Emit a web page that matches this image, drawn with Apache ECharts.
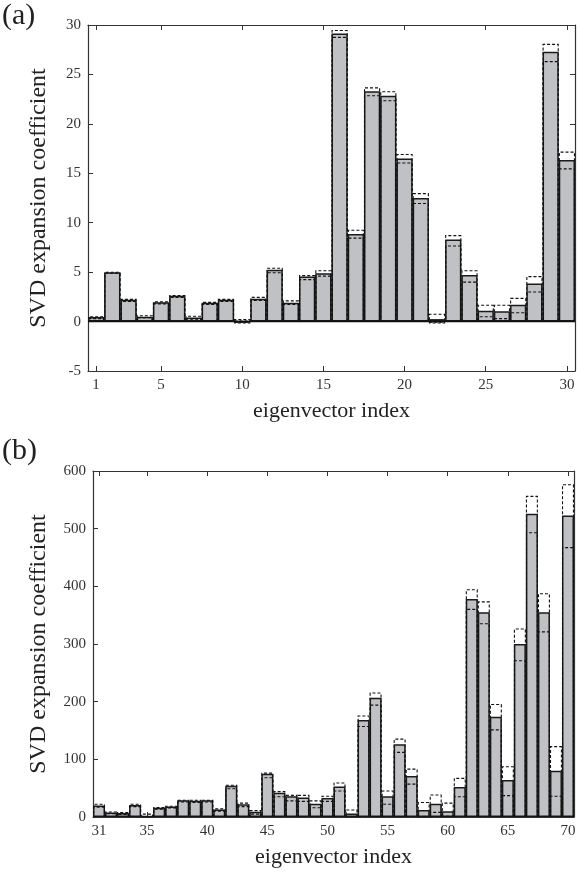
<!DOCTYPE html>
<html>
<head>
<meta charset="utf-8">
<script src="https://cdn.jsdelivr.net/npm/echarts@6/dist/echarts.min.js"></script>
<style>
html,body{margin:0;padding:0;background:#fff;}
#chart{width:579px;height:886px;}
</style>
</head>
<body>
<div id="chart"></div>
<script>
// Panel (a): eigenvector index 1..30
const catsA = Array.from({length:30},(_,i)=>String(i+1));
const valsA  = [0.45, 5.0, 2.2, 0.5, 1.95, 2.6, 0.4, 1.9, 2.2, -0.1, 2.3, 5.25, 1.9, 4.55, 4.9, 29.15, 8.85, 23.3, 22.85, 16.5, 12.5, 0.25, 8.3, 4.7, 1.1, 1.05, 1.7, 3.85, 27.3, 16.35];
const upperA = [0.55, 5.05, 2.3, 0.65, 2.05, 2.7, 0.6, 2.0, 2.3, 0.25, 2.5, 5.45, 2.15, 4.7, 5.2, 29.5, 9.3, 23.7, 23.3, 16.95, 13.0, 0.8, 8.75, 5.2, 1.7, 1.7, 2.4, 4.6, 28.1, 17.2];
const lowerA = [0.35, 4.95, 2.1, 0.45, 1.85, 2.5, 0.3, 1.8, 2.1, -0.2, 2.2, 5.0, 1.8, 4.3, 4.65, 28.8, 8.5, 22.9, 22.4, 16.1, 12.0, -0.2, 7.7, 4.05, 0.55, 0.35, 0.95, 3.05, 26.35, 15.5];
const tickLabelsA = ['1','5','10','15','20','25','30'];

// Panel (b): eigenvector index 31..70
const catsB = Array.from({length:40},(_,i)=>String(i+31));
const valsB  = [20, 8, 7, 21, 2, 16, 18, 29, 28, 29, 13, 54, 22, 9, 75, 42, 36, 34, 23, 33, 53, 6, 168, 207, 36, 126, 71, 12, 23, 10, 52, 378, 355, 174, 64, 300, 526, 355, 80, 523];
const upperB = [23, 9.5, 8.5, 23, 6, 17.5, 19.5, 30, 30, 30, 15, 56, 25, 12, 77, 45, 38.5, 38.5, 29, 37, 60, 13, 176, 216, 46, 136, 84, 26, 39, 25, 68, 395, 374, 196, 88, 327, 557, 388, 123, 577];
const lowerB = [18, 6.5, 5.5, 19, 1, 14.5, 16.5, 27, 26, 27, 11, 50, 19, 6, 69, 36, 29, 28, 17, 28, 46, 1, 158, 195, 23, 113, 58, 1, 9, 2, 36, 361, 336, 152, 38, 272, 494, 322, 37, 468];
const tickLabelsB = ['31','35','40','45','50','55','60','65','70'];

const FONT = '"Liberation Serif", "DejaVu Serif", serif';
const AXC = '#333';

function xAxes(cats, ticks, gi){
  const showIdx = (i) => ticks.indexOf(cats[i]) >= 0;
  return [
    {
      type:'category', gridIndex:gi, data:cats, position:'bottom',
      boundaryGap:true,
      axisLine:{show:true, onZero:false, lineStyle:{color:AXC, width:1.2}},
      axisTick:{show:true, inside:true, alignWithLabel:true, length:5, interval:(i)=>showIdx(i), lineStyle:{color:AXC}},
      axisLabel:{show:true, interval:(i)=>showIdx(i), margin:7, color:'#333', fontFamily:FONT, fontSize:15},
      name:'eigenvector index', nameLocation:'middle', nameGap:29,
      nameTextStyle:{fontFamily:FONT, fontSize:22, color:'#222'}
    },
    {
      type:'category', gridIndex:gi, data:cats, position:'top',
      boundaryGap:true,
      axisLine:{show:true, onZero:false, lineStyle:{color:AXC, width:1.2}},
      axisTick:{show:true, inside:true, alignWithLabel:true, length:5, interval:(i)=>showIdx(i), lineStyle:{color:AXC}},
      axisLabel:{show:false}
    }
  ];
}
function yAxes(min, max, interval, gi, gap){
  return [
    {
      type:'value', gridIndex:gi, min:min, max:max, interval:interval, position:'left',
      axisLine:{show:true, lineStyle:{color:AXC, width:1.2}},
      axisTick:{show:true, inside:true, length:5, lineStyle:{color:AXC}},
      splitLine:{show:false},
      axisLabel:{margin:7, color:'#333', fontFamily:FONT, fontSize:15},
      name:'SVD expansion coefficient', nameLocation:'middle', nameGap:gap, nameRotate:90,
      nameTextStyle:{fontFamily:FONT, fontSize:24, color:'#222'}
    },
    {
      type:'value', gridIndex:gi, min:min, max:max, interval:interval, position:'right',
      axisLine:{show:true, lineStyle:{color:AXC, width:1.2}},
      axisTick:{show:true, inside:true, length:5, lineStyle:{color:AXC}},
      splitLine:{show:false},
      axisLabel:{show:false}
    }
  ];
}
function barSeries(vals, upper, lower, xi, yi, zeroLine){
  const dashed = {color:'rgba(0,0,0,0)', borderColor:'#111', borderWidth:1.1, borderType:[3,2]};
  const main = {
    type:'bar', xAxisIndex:xi, yAxisIndex:yi, data:vals,
    barCategoryGap:'0%', barGap:'-100%', z:3,
    itemStyle:{color:'#c0c1c4', borderColor:'#1a1a1a', borderWidth:1.5},
    emphasis:{disabled:true}, animation:false
  };
  if (zeroLine){
    main.markLine = {silent:true, symbol:'none', label:{show:false},
      lineStyle:{color:'#111', type:'solid', width:1.3}, data:[{yAxis:0}]};
  }
  return [
    {type:'bar', xAxisIndex:xi, yAxisIndex:yi, data:upper, barCategoryGap:'0%', barGap:'-100%', z:2,
     itemStyle:dashed, emphasis:{disabled:true}, animation:false},
    main,
    {type:'bar', xAxisIndex:xi, yAxisIndex:yi, data:lower, barCategoryGap:'0%', barGap:'-100%', z:4,
     itemStyle:dashed, emphasis:{disabled:true}, animation:false}
  ];
}

const chart = echarts.init(document.getElementById('chart'), null, {renderer:'canvas'});
chart.setOption({
  backgroundColor:'#fff',
  animation:false,
  grid:[
    {left:88, top:25, width:487, height:346, containLabel:false},
    {left:93, top:471, width:481, height:346, containLabel:false}
  ],
  xAxis:[...xAxes(catsA, tickLabelsA, 0), ...xAxes(catsB, tickLabelsB, 1)],
  yAxis:[...yAxes(-5, 30, 5, 0, 37), ...yAxes(0, 600, 100, 1, 42)],
  graphic:[
    {type:'text', left:2, top:1, style:{text:'(a)', fontFamily:FONT, fontSize:30, fill:'#222'}},
    {type:'text', left:2, top:436, style:{text:'(b)', fontFamily:FONT, fontSize:30, fill:'#222'}}
  ],
  series:[
    ...barSeries(valsA, upperA, lowerA, 0, 0, true),
    ...barSeries(valsB, upperB, lowerB, 2, 2, false)
  ]
});
</script>
</body>
</html>
